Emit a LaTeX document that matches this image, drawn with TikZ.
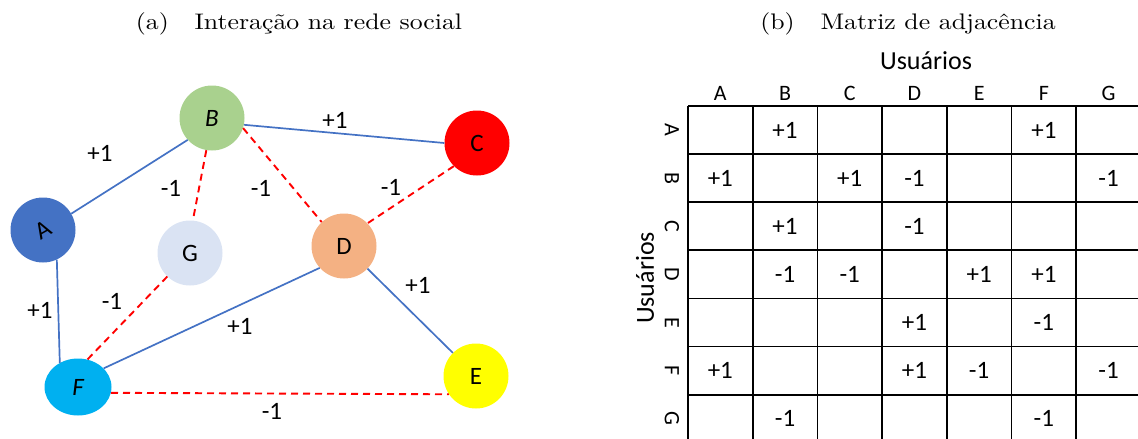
\documentclass[tikz,border=0pt]{standalone}
\usepackage{fontspec}
\newfontfamily\calfont{Carlito}
\usetikzlibrary{shapes.geometric}
\definecolor{cA}{HTML}{4472C4}
\definecolor{cB}{HTML}{A9D18E}
\definecolor{cC}{HTML}{FF0000}
\definecolor{cD}{HTML}{F4B183}
\definecolor{cE}{HTML}{FFFF00}
\definecolor{cF}{HTML}{00B0F0}
\definecolor{cG}{HTML}{DAE3F3}
\definecolor{pos}{HTML}{4472C4}
\definecolor{neg}{HTML}{FF0000}
\begin{document}
\begin{tikzpicture}[x=1pt,y=-1pt,
  usr/.style={circle,minimum size=65pt,inner sep=0pt,draw=none,font=\calfont\fontsize{25}{29}\selectfont},
  posedge/.style={draw=pos,line width=1.7pt},
  negedge/.style={draw=neg,line width=1.9pt,dash pattern=on 7pt off 5pt},
  wlab/.style={font=\calfont\fontsize{25}{29}\selectfont,inner sep=0pt},
  captxt/.style={font=\normalsize,inner sep=0pt,anchor=base},
  cellval/.style={font=\calfont\fontsize{25}{29}\selectfont,inner sep=0pt},
  hdr/.style={font=\calfont\fontsize{22}{26}\selectfont,inner sep=0pt},
  gridline/.style={draw=black,line width=1.8pt}]
\useasboundingbox (0,0) rectangle (1138,439);

% captions
\node[captxt] (capa) at (299,29) {\scalebox{2.58}[2.25]{(a)\quad Interação na rede social}};
\node[captxt] (capb) at (908,29) {\scalebox{2.58}[2.25]{(b)\quad Matriz de adjacência}};

% graph nodes
\node[usr,fill=cA] (A) at (43,230) {\rotatebox{30}{A}};
\node[usr,fill=cB] (B) at (212,118) {\itshape B};
\node[usr,fill=cC] (C) at (477,143) {C};
\node[usr,fill=cD] (D) at (344,246) {D};
\node[usr,fill=cE] (E) at (476,376) {E};
\node[ellipse,minimum width=67pt,minimum height=57pt,inner sep=0pt,fill=cF,font=\calfont\fontsize{25}{29}\selectfont] (F) at (78,387) {\itshape F};
\node[usr,fill=cG] (G) at (190,253) {G};

% edges
\draw[posedge] (A.30) -- (B.-138);
\draw[posedge] (B.-12) -- (C.180);
\draw[negedge] (B.-100) -- (G.85);
\draw[negedge] (B.-18) -- (D.133);
\draw[negedge] (C.-135) -- (D.44);
\draw[posedge] (A.-65) -- (F.127);
\draw[negedge] (G.-134) -- (F.71);
\draw[posedge] (D.222) -- (F.36);
\draw[posedge] (D.-44) -- (E.135);
\draw[negedge] (F.-10) -- (E.-146);

% edge labels
\node[wlab] (lAB) at (100,153) {+1};
\node[wlab] (lBG) at (171,188) {-1};
\node[wlab] (lBD) at (261,188) {-1};
\node[wlab] (lBC) at (335,120) {+1};
\node[wlab] (lCD) at (391,187) {-1};
\node[wlab] (lAF) at (40,310) {+1};
\node[wlab] (lGF) at (112,301) {-1};
\node[wlab] (lDF) at (240,326) {+1};
\node[wlab] (lDE) at (418,285) {+1};
\node[wlab] (lFE) at (272,411) {-1};

% matrix
\def\xo{688}\def\cw{64.7}\def\yo{106}\def\rh{48.1}
\node[font=\calfont\fontsize{26}{30}\selectfont,inner sep=0pt] (uTop) at (926,61) {Usuários};
\node[font=\calfont\fontsize{26}{30}\selectfont,inner sep=0pt,rotate=90] (uLeft) at (645,278) {Usuários};
\foreach \l [count=\i from 0] in {A,B,C,D,E,F,G}{
  \node[hdr] (col\l) at ({\xo+(\i+0.5)*\cw},93) {\l};
  \node[hdr,rotate=-90] (row\l) at (672,{\yo+(\i+0.5)*\rh}) {\l};
}
\foreach \i in {0,...,7}{
  \draw[gridline] ({\xo+\i*\cw},\yo) -- ({\xo+\i*\cw},445);
  \draw[gridline] (\xo,{\yo+\i*\rh}) -- (1145,{\yo+\i*\rh});
}
\foreach \r/\c/\v in {0/1/+1,0/5/+1,
  1/0/+1,1/2/+1,1/3/-1,1/6/-1,
  2/1/+1,2/3/-1,
  3/1/-1,3/2/-1,3/4/+1,3/5/+1,
  4/3/+1,4/5/-1,
  5/0/+1,5/3/+1,5/4/-1,5/6/-1,
  6/1/-1,6/5/-1}{
  \node[cellval] (m\r\c) at ({\xo+(\c+0.5)*\cw},{\yo+(\r+0.5)*\rh}) {\v};
}
\end{tikzpicture}
\end{document}
